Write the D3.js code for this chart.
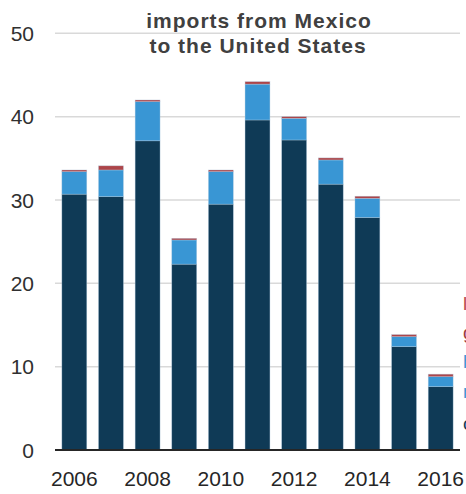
<!DOCTYPE html>
<html>
<head>
<meta charset="utf-8">
<script src="https://cdn.jsdelivr.net/npm/d3@7"></script>
<style>
  body { margin: 0; background: #fff; overflow: hidden; }
  svg { display: block; font-family: "Liberation Sans", Arial, sans-serif; }
</style>
</head>
<body>
<svg id="chart" width="466" height="494"></svg>
<script>
// years on the x axis
var years = ["2006", "2007", "2008", "2009", "2010", "2011", "2012", "2013", "2014", "2015", "2016"];
// stacked series, bottom to top
var crude = [30.7, 30.4, 37.1, 22.3, 29.5, 39.6, 37.2, 31.9, 27.9, 12.4, 7.6];
var otherLiquids = [2.7, 3.2, 4.7, 2.9, 3.9, 4.3, 2.6, 2.9, 2.3, 1.2, 1.2];
var products = [0.2, 0.5, 0.2, 0.2, 0.2, 0.3, 0.2, 0.25, 0.25, 0.25, 0.3];
var seriesNames = ["crude oil", "other liquids", "products"];
var seriesColors = ["#0f3a56", "#3996d4", "#ad4549"];
var yTicks = [0, 10, 20, 30, 40, 50];
// legend at the right edge (mostly outside the picture)
var legendNames = ["lubricants", "gasoline", "hydrocarbon gas liquids", "natural gasoline", "crude oil"];
var legendColors = ["#b8454c", "#9c3a3e", "#3996d4", "#3996d4", "#0f3a56"];

var svg = d3.select("#chart");
var x0 = 56, x1 = 459, yTop = 33.3, yBase = 450;

var table = years.map(function(y, i) {
    return { year: y, "crude oil": crude[i], "other liquids": otherLiquids[i], "products": products[i] };
});

var x = d3.scaleBand().domain(years).range([x0, x1]).paddingInner(0.32).paddingOuter(0.16);
var y = d3.scaleLinear().domain([0, 50]).range([yBase, yTop]);

// gridlines
svg.append("g").selectAll("line")
    .data(yTicks.filter(function(d) { return d > 0; }))
    .enter().append("line")
    .attr("x1", x0 - 1).attr("x2", x1 + 1)
    .attr("y1", function(d) { return y(d); })
    .attr("y2", function(d) { return y(d); })
    .style("stroke", "#d9d9d9")
    .style("stroke-width", "1.5px");

// y labels
svg.append("g").selectAll("text")
    .data(yTicks)
    .enter().append("text")
    .attr("x", 34)
    .attr("y", function(d) { return y(d); })
    .attr("dy", "0.36em")
    .attr("text-anchor", "end")
    .style("font-size", "21px")
    .style("fill", "#303030")
    .text(function(d) { return d; });

// title
var title = svg.append("text")
    .attr("text-anchor", "middle")
    .style("font-size", "21px")
    .style("font-weight", "bold")
    .style("letter-spacing", "1px")
    .style("fill", "#404040");
title.append("tspan").attr("x", 259).attr("y", 28).text("imports from Mexico");
title.append("tspan").attr("x", 258).attr("y", 53).text("to the United States");

// stacked bars
var stack = d3.stack().keys(seriesNames)(table);
svg.append("g").selectAll("g")
    .data(stack)
    .enter().append("g")
    .style("fill", function(d, i) { return seriesColors[i]; })
    .selectAll("rect")
    .data(function(d) { return d; })
    .enter().append("rect")
    .attr("x", function(d) { return x(d.data.year); })
    .attr("width", x.bandwidth())
    .attr("y", function(d) { return y(d[1]); })
    .attr("height", function(d) { return y(d[0]) - y(d[1]); })
    .style("stroke", "rgba(180,205,225,0.6)")
    .style("stroke-width", "0.6px");

// baseline
svg.append("line")
    .attr("x1", x0 - 1).attr("x2", x1 + 1)
    .attr("y1", yBase).attr("y2", yBase)
    .style("stroke", "#262626")
    .style("stroke-width", "2px");

// x labels every other year
svg.append("g").selectAll("text")
    .data(years.filter(function(d, i) { return i % 2 === 0; }))
    .enter().append("text")
    .attr("x", function(d) { return x(d) + x.bandwidth() / 2; })
    .attr("y", 486)
    .attr("text-anchor", "middle")
    .style("font-size", "21px")
    .style("fill", "#262626")
    .text(function(d) { return d; });

// legend (cut off by the right edge, as in the source picture)
svg.append("g").selectAll("text")
    .data(legendNames)
    .enter().append("text")
    .attr("x", 463)
    .attr("y", function(d, i) { return [310, 339, 368, 398, 430][i]; })
    .style("font-size", "19px")
    .style("fill", function(d, i) { return legendColors[i]; })
    .text(function(d) { return d; });
</script>
</body>
</html>
